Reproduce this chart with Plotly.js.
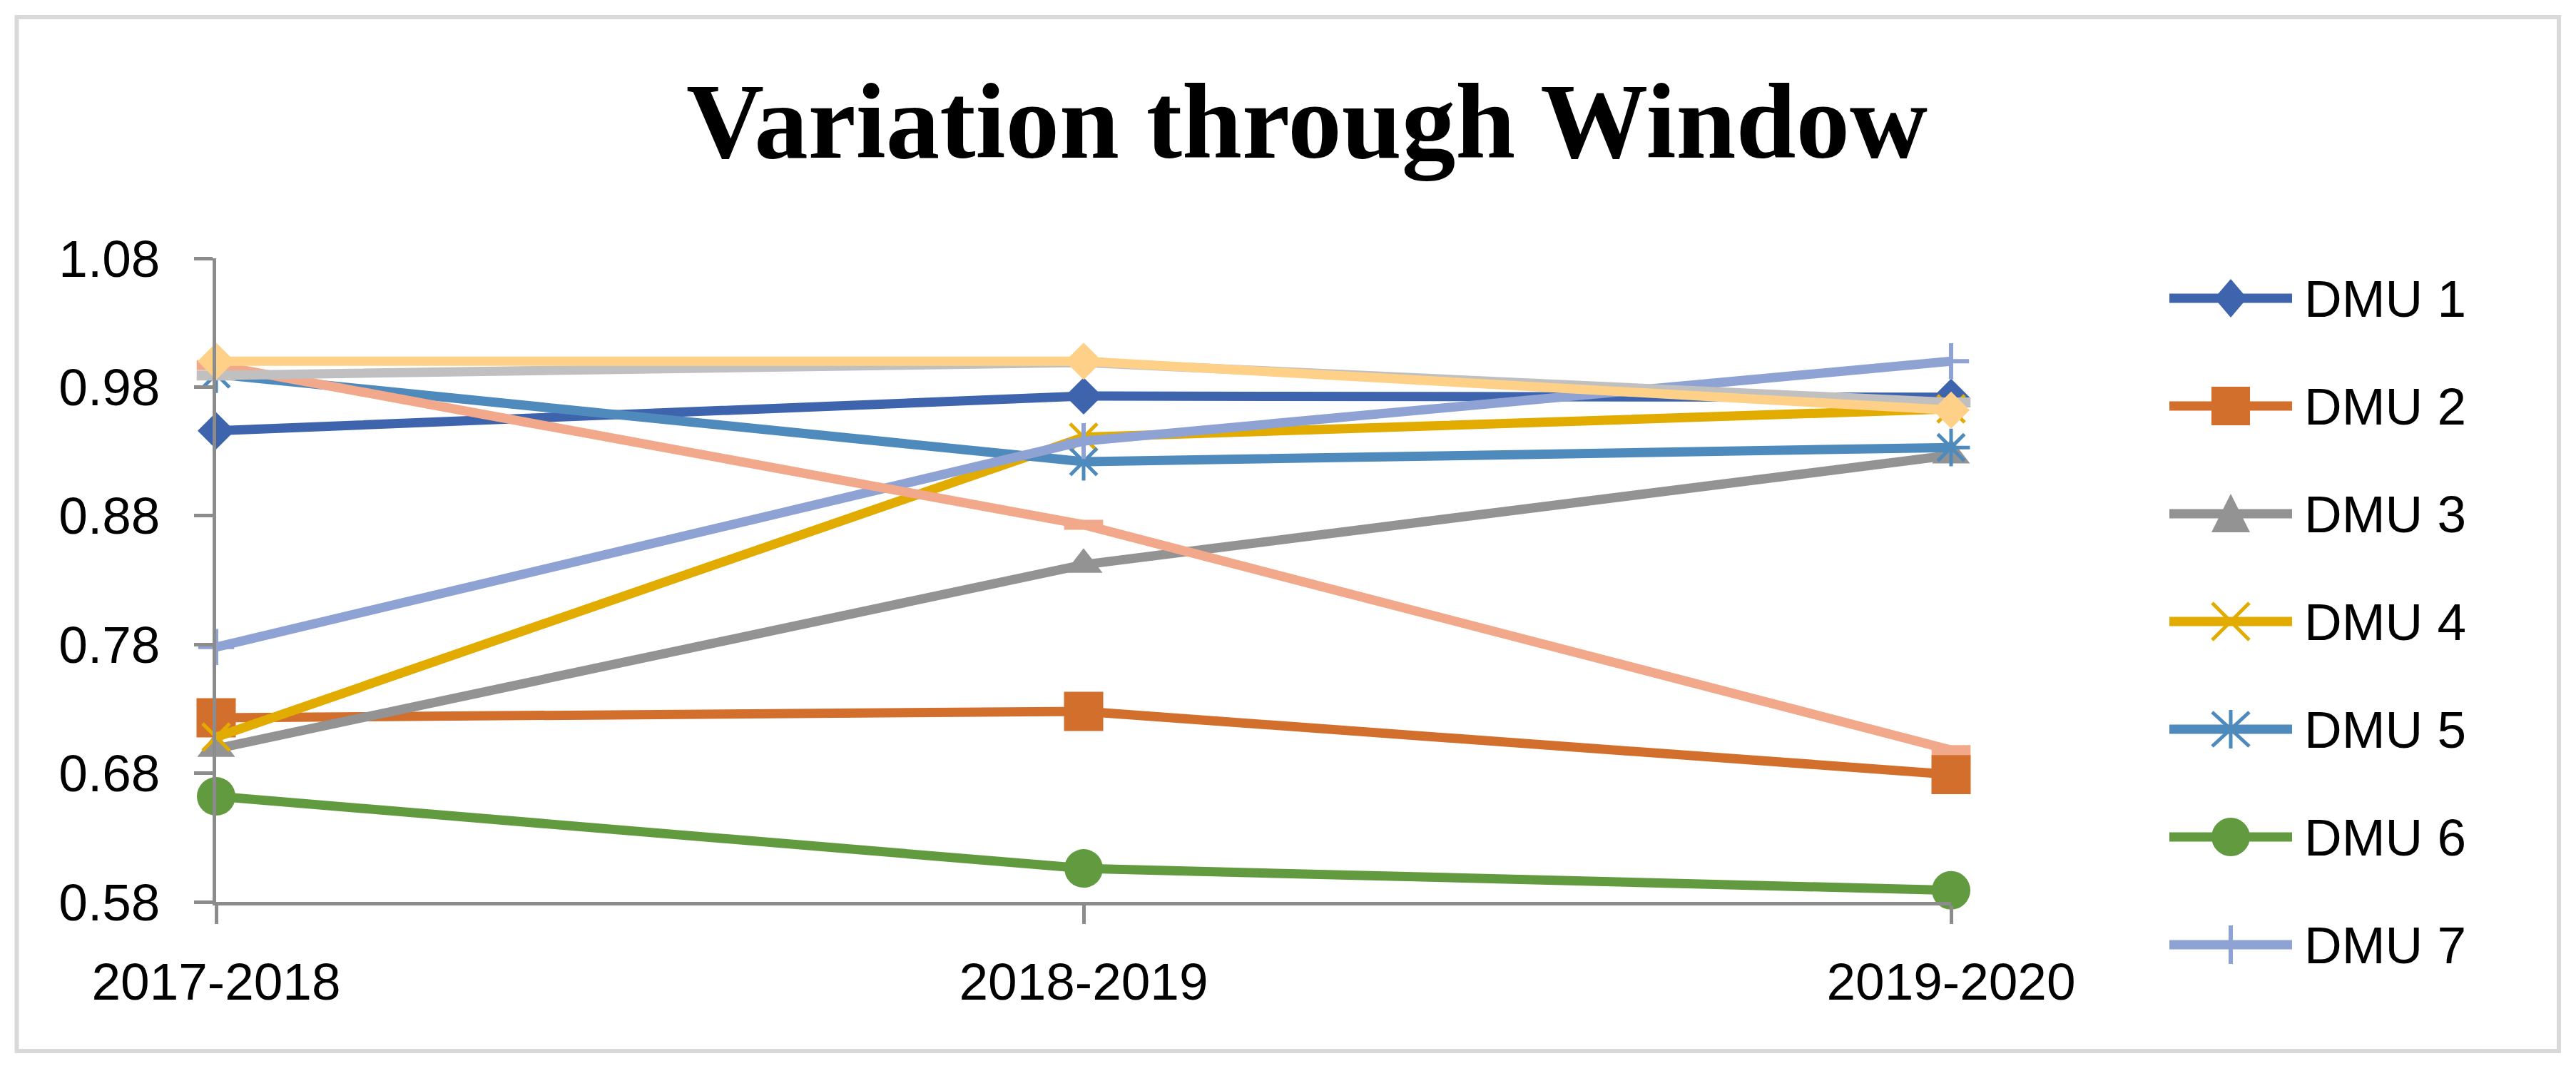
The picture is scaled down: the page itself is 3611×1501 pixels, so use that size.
<!DOCTYPE html>
<html>
<head>
<meta charset="utf-8">
<script src="https://cdn.plot.ly/plotly-3.0.1.min.js"></script>
<style>html,body{margin:0;padding:0;background:#fff;}#chart{width:3611px;height:1501px;}</style>
</head>
<body>
<div id="chart"></div>
<script>
// ---- data ----
var categories = ['2017-2018', '2018-2019', '2019-2020'];
var seriesNames = ['DMU 1', 'DMU 2', 'DMU 3', 'DMU 4', 'DMU 5', 'DMU 6', 'DMU 7', 'DMU 8', 'DMU 9', 'DMU 10'];
var dmu1 = [0.946, 0.973, 0.972];
var dmu2 = [0.723, 0.728, 0.679];
var dmu3 = [0.699, 0.842, 0.927];
var dmu4 = [0.708, 0.941, 0.963];
var dmu5 = [0.990, 0.922, 0.933];
var dmu6 = [0.662, 0.606, 0.589];
var dmu7 = [0.778, 0.938, 1.000];
var dmu8 = [0.997, 0.873, 0.698];
var dmu9 = [0.989, 0.999, 0.968];
var dmu10 = [1.000, 1.000, 0.962];
var yTickVals = [0.58, 0.68, 0.78, 0.88, 0.98, 1.08];

// ---- styles ----
var values = [dmu1, dmu2, dmu3, dmu4, dmu5, dmu6, dmu7, dmu8, dmu9, dmu10];
var colors = ['#3E64AD', '#D36F2C', '#939393', '#E2AB00', '#4F8ABD', '#629A3F', '#8FA2D4', '#F1A88B', '#C0C0C0', '#FFD188'];
var symbols = ['diamond', 'square', 'triangle-up', 'x-thin-open', 'asterisk-open', 'circle', 'cross-thin-open', 'line-ew-open', 'line-ew-open', 'diamond'];
var sizes = [40, 55, 46, 38, 44, 54, 36, 39, 39, 40];
var openWidths = [0, 0, 0, 5, 5, 0, 6, 14, 14, 0];
var legendCount = 7;

var W = 3611, H = 1501;
var M = {l: 303, r: 876, t: 362, b: 237};
var pw = W - M.l - M.r, ph = H - M.t - M.b;
function px2x(p) { return (p - M.l) / pw; }
function py2y(p) { return (H - M.b - p) / ph; }

var font = 'Liberation Sans, Arial, sans-serif';
var traces = values.map(function (v, i) {
  var open = openWidths[i] > 0;
  return {
    type: 'scatter',
    mode: 'lines+markers',
    name: seriesNames[i],
    x: [0, 1, 2],
    y: v,
    cliponaxis: false,
    showlegend: false,
    line: {color: colors[i], width: 13},
    marker: {
      symbol: symbols[i],
      size: sizes[i],
      color: colors[i],
      line: {color: colors[i], width: open ? openWidths[i] : 0}
    }
  };
});

// ---- legend (drawn as layout decoration, Excel-style long samples) ----
var legendSymbolPaths = [
  {d: 'M-23,0 L0,27 L23,0 L0,-27 Z', fill: true, w: 0},
  {d: 'M-27,-27 H27 V27 H-27 Z', fill: true, w: 0},
  {d: 'M-27,-26 L27,-26 L0,28 Z', fill: true, w: 0},
  {d: 'M-26,-26 L26,26 M-26,26 L26,-26', fill: false, w: 5},
  {d: 'M-26,-24 L26,24 M-26,24 L26,-24 M0,-27 L0,27', fill: false, w: 5},
  {circle: true, r: 27, fill: true, w: 0},
  {d: 'M0,-27 L0,27', fill: false, w: 6}
];
var shapes = [{
  type: 'rect', xref: 'paper', yref: 'paper',
  x0: px2x(23.5), x1: px2x(3587), y0: py2y(1473), y1: py2y(24),
  line: {color: '#D9D9D9', width: 6}, fillcolor: 'rgba(0,0,0,0)', layer: 'below'
}];
var annotations = [];
var legX0 = 3041, legX1 = 3213, legXc = 3127, legText = 3228, legY0 = 418, legStep = 151;
for (var i = 0; i < legendCount; i++) {
  var yc = py2y(legY0 + i * legStep);
  shapes.push({
    type: 'line', xref: 'paper', yref: 'paper',
    x0: px2x(legX0), x1: px2x(legX1), y0: yc, y1: yc,
    line: {color: colors[i], width: 13}, layer: 'above'
  });
  var sp = legendSymbolPaths[i];
  var sym = {
    xref: 'paper', yref: 'paper',
    xsizemode: 'pixel', ysizemode: 'pixel',
    xanchor: px2x(legXc), yanchor: yc,
    fillcolor: sp.fill ? colors[i] : 'rgba(0,0,0,0)',
    line: {color: colors[i], width: sp.w}, layer: 'above'
  };
  if (sp.circle) {
    sym.type = 'circle';
    sym.x0 = -sp.r; sym.x1 = sp.r; sym.y0 = -sp.r; sym.y1 = sp.r;
  } else {
    sym.type = 'path';
    sym.path = sp.d;
  }
  shapes.push(sym);
  annotations.push({
    xref: 'paper', yref: 'paper', x: px2x(legText), y: yc,
    xanchor: 'left', yanchor: 'middle', showarrow: false,
    text: seriesNames[i],
    font: {family: font, size: 73, color: '#000'}
  });
}

var layout = {
  width: W, height: H,
  margin: M,
  paper_bgcolor: '#ffffff',
  plot_bgcolor: '#ffffff',
  title: {
    text: 'Variation through Window',
    font: {family: 'Liberation Serif, Times New Roman, serif', size: 151, color: '#000', weight: 'bold'},
    x: 1832 / W, xref: 'container', xanchor: 'center',
    y: 1 - 168 / H, yref: 'container', yanchor: 'middle'
  },
  xaxis: {
    range: [0, 2],
    tickmode: 'array',
    tickvals: [0, 1, 2],
    ticktext: categories,
    showgrid: false, zeroline: false,
    showline: true, linecolor: '#8C8C8C', linewidth: 5,
    ticks: 'outside', ticklen: 26, tickwidth: 5, tickcolor: '#8C8C8C',
    tickfont: {family: font, size: 73, color: '#000'},
    ticklabelstandoff: 18
  },
  yaxis: {
    range: [0.58, 1.08],
    tickmode: 'array',
    tickvals: yTickVals,
    ticktext: yTickVals.map(function (t) { return t.toFixed(2); }),
    showgrid: false, zeroline: false,
    showline: true, linecolor: '#8C8C8C', linewidth: 5,
    ticks: 'outside', ticklen: 26, tickwidth: 5, tickcolor: '#8C8C8C',
    tickfont: {family: font, size: 73, color: '#000'},
    ticklabelstandoff: 33
  },
  shapes: shapes,
  annotations: annotations,
  showlegend: false
};

Plotly.newPlot('chart', traces, layout, {staticPlot: true, displayModeBar: false});
</script>
</body>
</html>
